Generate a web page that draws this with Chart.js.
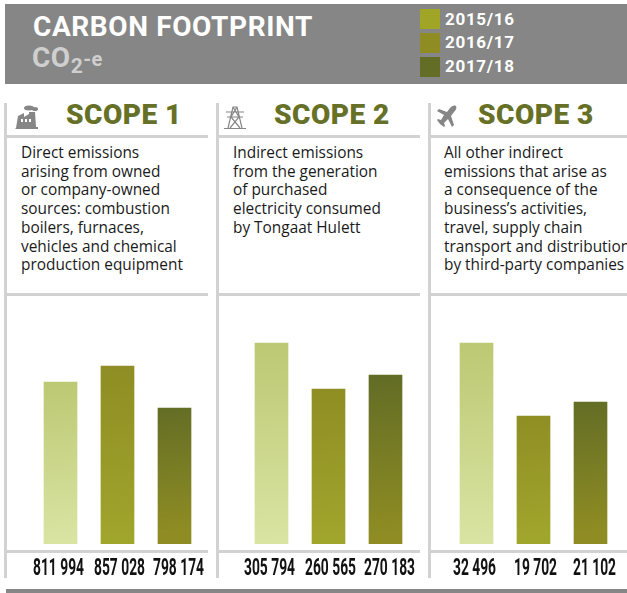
<!DOCTYPE html>
<html>
<head>
<meta charset="utf-8">
<title>Carbon footprint</title>
<script src="https://cdn.jsdelivr.net/npm/chart.js@4/dist/chart.umd.min.js"></script>
<style>
html, body { margin: 0; padding: 0; background: #fff; overflow: hidden; }
#page { position: relative; width: 627px; height: 593px; overflow: hidden; font-family: "Open Sans", sans-serif; }
#page div, #page canvas, #page svg { position: absolute; }
.band { background: #868686; }
.rule { background: #d2d2d2; }
.swatch { left: 420px; width: 20px; }
.year { left: 445px; color: #fff; font: bold 17px/20px Roboto, sans-serif; letter-spacing: 0.7px; }
.scope { top: 98px; color: #667127; font: 900 28px/34px Roboto, sans-serif; letter-spacing: 0.5px; white-space: nowrap; }
.desc { top: 144px; color: #1a1a1a; font-size: 15.4px; line-height: 18.7px; white-space: pre; }
</style>
</head>
<body>
<div id="page">
	<div class="band" style="left:5px;top:4px;width:622px;height:80px"></div>
	<div style="left:33px;top:11px;color:#fff;font:bold 28px/32px Roboto,sans-serif;letter-spacing:0.6px;white-space:nowrap">CARBON FOOTPRINT</div>
	<div style="left:32px;top:43px;color:#cfcfcf;font:bold 28px/30px Roboto,sans-serif;letter-spacing:0.5px;white-space:nowrap">CO<span style="font-size:21px;position:relative;top:6px">2</span><span style="font-size:20px;position:relative;top:-1px">-e</span></div>
	<div class="swatch" style="top:9px;height:20px;background:#a0a526"></div>
	<div class="swatch" style="top:33px;height:20px;background:#8e8c23"></div>
	<div class="swatch" style="top:57px;height:20px;background:#636d25"></div>
	<div class="year" style="top:9px">2015/16</div>
	<div class="year" style="top:32px">2016/17</div>
	<div class="year" style="top:56px">2017/18</div>

	<div class="rule" style="left:4px;top:103px;width:3px;height:475px"></div>
	<div class="rule" style="left:216px;top:103px;width:3px;height:475px"></div>
	<div class="rule" style="left:428px;top:103px;width:3px;height:475px"></div>
	<div class="rule" style="left:5px;top:135px;width:203px;height:3px"></div>
	<div class="rule" style="left:218px;top:135px;width:202px;height:3px"></div>
	<div class="rule" style="left:430px;top:135px;width:197px;height:3px"></div>
	<div class="rule" style="left:5px;top:293px;width:203px;height:3px"></div>
	<div class="rule" style="left:218px;top:293px;width:202px;height:3px"></div>
	<div class="rule" style="left:430px;top:293px;width:197px;height:3px"></div>
	<div class="rule" style="left:5px;top:550px;width:203px;height:3px"></div>
	<div class="rule" style="left:218px;top:550px;width:202px;height:3px"></div>
	<div class="rule" style="left:430px;top:550px;width:197px;height:3px"></div>
	<div class="band" style="left:6px;top:589px;width:621px;height:4px"></div>

	<svg style="left:15px;top:104px" width="24" height="25" viewBox="0 0 24 25" fill="#868686">
		<path d="M1 24 L3 12 L9 9 V13 L14 10 V8 H20 L21 23 H23 V25 H0 Z M6 15 V18 H8 V15 Z M10 15 V18 H12 V15 Z M14 15 V18 H16 V15 Z" fill-rule="evenodd"/>
		<ellipse cx="14" cy="4" rx="5" ry="2.5"/><ellipse cx="20" cy="5" rx="3" ry="2"/>
	</svg>
	<svg style="left:224px;top:104px" width="22" height="25" viewBox="0 0 22 25" fill="none" stroke="#868686" stroke-width="1.2">
		<path d="M0 24.5 H22 M4 24 L9 3 H13 L18 24 M2 8 H20 M3 13 H19 M9 3 L15 13 L6 24 M13 3 L7 13 L16 24"/>
	</svg>
	<svg style="left:437px;top:105px" width="20" height="24" viewBox="0 0 20 24" fill="#868686">
		<path d="M19 1 C17 0 15 1 13 3 L10 7 L2 4 L0 6 L7 10 L4 15 L1 14 L0 15 L3 19 L7 22 L8 21 L7 18 L11 14 L15 22 L17 20 L14 11 L17 7 C19 5 20 3 19 1 Z"/>
	</svg>

	<div class="scope" style="left:66px">SCOPE 1</div>
	<div class="scope" style="left:274px">SCOPE 2</div>
	<div class="scope" style="left:478px">SCOPE 3</div>

	<div class="desc" style="left:21px">Direct emissions
arising from owned
or company-owned
sources: combustion
boilers, furnaces,
vehicles and chemical
production equipment</div>
	<div class="desc" style="left:233px">Indirect emissions
from the generation
of purchased
electricity consumed
by Tongaat Hulett</div>
	<div class="desc" style="left:444px">All other indirect
emissions that arise as
a consequence of the
business’s activities,
travel, supply chain
transport and distribution
by third-party companies</div>

	<canvas id="scope1" width="190" height="284" style="left:15px;top:296px"></canvas>
	<canvas id="scope2" width="190" height="284" style="left:226px;top:296px"></canvas>
	<canvas id="scope3" width="190" height="284" style="left:431px;top:296px"></canvas>
</div>
<script>
// printed totals, tCO2-e
var scope1Labels = ['811 994', '857 028', '798 174'];
var scope2Labels = ['305 794', '260 565', '270 183'];
var scope3Labels = ['32 496', '19 702', '21 102'];

// the bars in the picture are not to a common scale, so these are the heights read off it
var scope1Heights = [162, 178, 136];
var scope2Heights = [201, 155, 169];
var scope3Heights = [201, 128, 142];

var barTops = ['#bcc872', '#8e8c23', '#5f6a25'];
var barBottoms = ['#d9e4a3', '#a0a52c', '#8e8c23'];
var labelShift = [-2, 2, 4];

function corBarra(context) {
	var chart = context.chart;
	if (!chart.chartArea) {
		return barTops[context.dataIndex];
	}
	var topo = chart.scales.y.getPixelForValue(context.raw);
	var base = chart.scales.y.getPixelForValue(0);
	var grad = chart.ctx.createLinearGradient(0, topo, 12, base);
	grad.addColorStop(0, barTops[context.dataIndex]);
	grad.addColorStop(1, barBottoms[context.dataIndex]);
	return grad;
}

// no condensed face is installed, so the value labels are squeezed by hand
var rotulosValores = {
	id: 'rotulosValores',
	afterDraw: function (chart) {
		var ctx = chart.ctx;
		var meta = chart.getDatasetMeta(0);
		var aperto = 0.6;
		ctx.save();
		ctx.font = 'bold 23px Roboto, sans-serif';
		ctx.fillStyle = '#111';
		ctx.textAlign = 'center';
		ctx.textBaseline = 'alphabetic';
		for (let i = 0; i < meta.data.length; i++) {
			let x = meta.data[i].x + labelShift[i];
			ctx.save();
			ctx.translate(x, chart.chartArea.bottom + 31);
			ctx.scale(aperto, 1);
			ctx.fillText(chart.data.labels[i], 0, 0);
			ctx.restore();
		}
		ctx.restore();
	}
};

function desenharGrafico(id, labels, heights) {
	return new Chart(document.getElementById(id), {
		type: 'bar',
		data: {
			labels: labels,
			datasets: [{
				label: id,
				data: heights,
				backgroundColor: corBarra,
				barThickness: 33
			}]
		},
		options: {
			responsive: false,
			animation: false,
			layout: { padding: { left: 17, right: 2, top: 0, bottom: 36 } },
			plugins: {
				legend: { display: false },
				title: { display: false },
				tooltip: { enabled: false }
			},
			scales: {
				y: {
					display: false,
					min: 0,
					max: 248
				},
				x: {
					display: false,
					offset: true
				}
			}
		},
		plugins: [rotulosValores]
	});
}

desenharGrafico('scope1', scope1Labels, scope1Heights);
desenharGrafico('scope2', scope2Labels, scope2Heights);
desenharGrafico('scope3', scope3Labels, scope3Heights);
</script>
</body>
</html>
